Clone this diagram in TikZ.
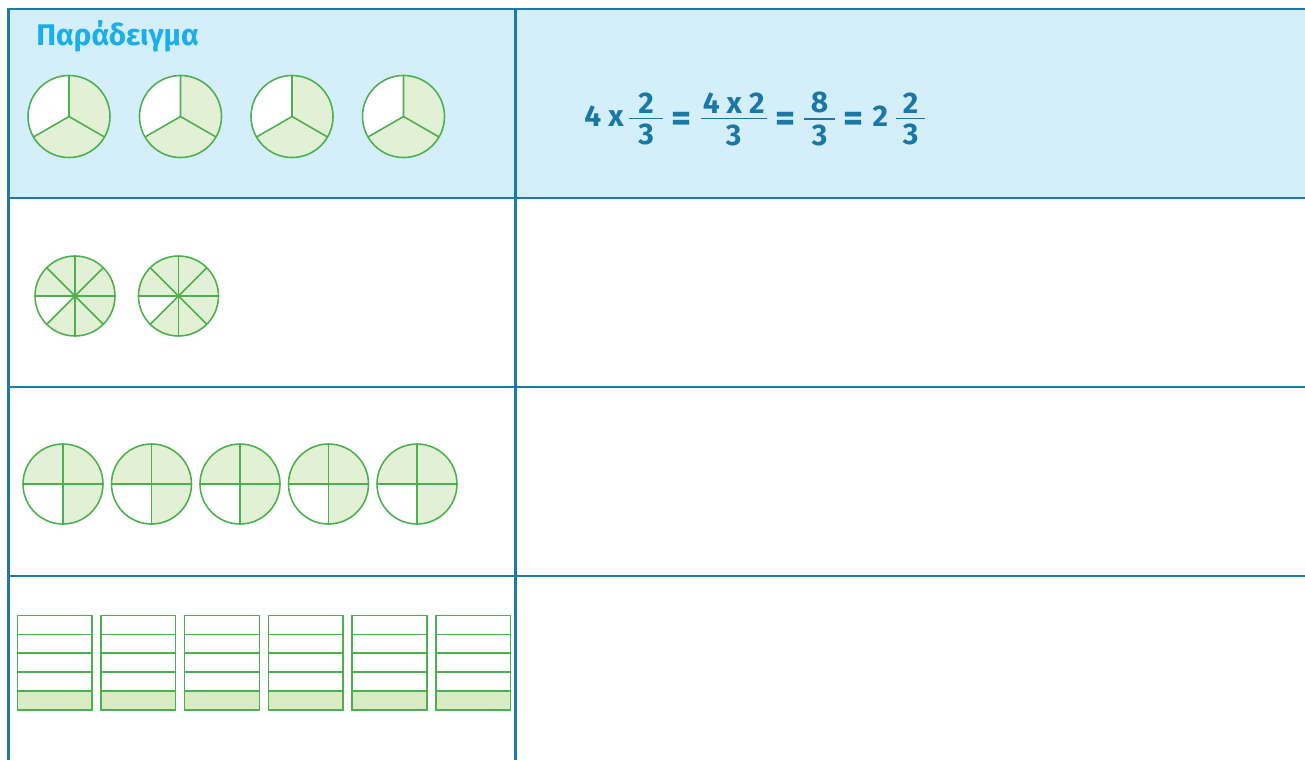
\documentclass[tikz,border=0pt]{standalone}
\usepackage{amsmath}
\usepackage{fontspec}
\setmainfont{Fira Sans}
\definecolor{cGrid}{HTML}{1F78A8}
\definecolor{cHead}{HTML}{D4EEFA}
\definecolor{cPie}{HTML}{4DB04F}
\definecolor{cPieBg}{HTML}{E2F0D5}
\definecolor{cBarBg}{HTML}{DAEBC4}
\definecolor{cTitle}{HTML}{1AAEEA}
\definecolor{cCalc}{HTML}{1A78A6}
% fraction of fixed width, bar on the math axis
\newcommand{\calcfrac}[3]{\vcenter{\hbox to #1{\hfil#2\hfil}\kern2.7pt\hrule height 0.8pt\kern2.9pt\hbox to #1{\hfil#3\hfil}}}
\newcommand{\calceq}{\hspace{5pt}\text{\raisebox{-3pt}{\fontsize{22}{22}\selectfont =}}\hspace{5pt}}
\tikzset{
  gridline/.style={draw=cGrid, line width=1.3pt},
  pie/.style={draw=cPie, line width=0.9pt},
  bar/.style={draw=cPie, line width=0.8pt},
}
\begin{document}
\begin{tikzpicture}[x=0.2mm, y=-0.2mm]
    \useasboundingbox (0,0) rectangle (1305,760);
    % table: header band, rows, divider
    \fill[cHead] (8.5,9) rectangle (1305,198);
    \draw[gridline] (1305,9) -- (8.5,9) -- (8.5,760);
    \draw[gridline] (515.5,9) -- (515.5,760);
    \draw[gridline] (8.5,198) -- (1305,198);
    \draw[gridline] (8.5,387) -- (1305,387);
    \draw[gridline] (8.5,576) -- (1305,576);
    % example: four circles in thirds, 2/3 shaded
    \node[anchor=base west, font=\fontsize{17}{19}\selectfont\bfseries, text=cTitle, inner sep=0pt]
      (title) at (36,45) {Παράδειγμα};
    \foreach \cx in {69,180.5,292,403.5} {
      \fill[cPieBg] (\cx,116.5) circle[radius=41];
      \fill[white] (\cx,116.5) -- ++(150:41) arc[start angle=150, end angle=270, radius=41] -- cycle;
      \draw[pie] (\cx,116.5) circle[radius=41];
      \draw[pie] (\cx,116.5) -- ++(270:41) (\cx,116.5) -- ++(150:41) (\cx,116.5) -- ++(30:41);
    }
    \node[anchor=west, font=\fontsize{17}{19}\selectfont\bfseries, text=cCalc, inner sep=0pt]
      (calc) at (584,119)
      {$\text{4 x}\hspace{3.2pt}\calcfrac{19.3pt}{2}{3}\calceq
        \calcfrac{37.4pt}{4 x 2}{3}\calceq
        \calcfrac{17.6pt}{8}{3}\calceq
        \text{2}\hspace{4.6pt}\calcfrac{16.4pt}{2}{3}$};
    % row 1: two circles in eighths, 7/8 shaded
    \foreach \cx in {75,178.5} {
      \fill[cPieBg] (\cx,296) circle[radius=40];
      \fill[white] (\cx,296) -- ++(135:40) arc[start angle=135, end angle=180, radius=40] -- cycle;
      \draw[pie] (\cx,296) circle[radius=40];
      \foreach \a in {0,45,...,315}
        \draw[pie] (\cx,296) -- ++(\a:40);
    }
    % row 2: five circles in quarters, 3/4 shaded
    \foreach \cx in {63,151.5,240,328.5,417} {
      \fill[cPieBg] (\cx,484) circle[radius=40];
      \fill[white] (\cx,484) -- ++(90:40) arc[start angle=90, end angle=180, radius=40] -- cycle;
      \draw[pie] (\cx,484) circle[radius=40];
      \draw[pie] (\cx,444) -- (\cx,524) (\cx-40,484) -- (\cx+40,484);
    }
    % row 3: six bars in fifths, bottom fifth shaded
    \foreach \i in {0,...,5} {
      \pgfmathsetmacro\bx{17.3+83.7*\i}
      \fill[cBarBg] (\bx,691) rectangle ++(74.7,19);
      \draw[bar] (\bx,615.3) rectangle ++(74.7,94.7);
      \foreach \yy in {634.2,653.1,672.1,691}
        \draw[bar] (\bx,\yy) -- ++(74.7,0);
    }
\end{tikzpicture}
\end{document}
